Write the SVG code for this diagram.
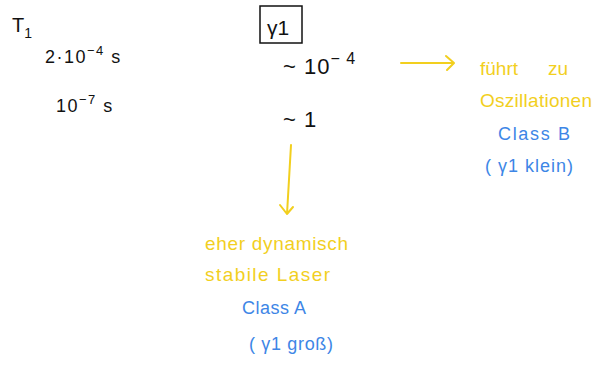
<svg xmlns="http://www.w3.org/2000/svg" width="602" height="374" viewBox="0 0 602 374">
<defs>
<style>
text{font-family:"Liberation Sans","DejaVu Sans",sans-serif}
.k{fill:#111}
.y{fill:#f2cf1e}
.b{fill:#3d86e6}
.ln{stroke:#f2cf1e;stroke-width:2;fill:none;stroke-linecap:round;stroke-linejoin:round}
</style>
</defs>
<rect width="602" height="374" fill="#fff"/>
<g id="t1"><text class="k" x="12" y="32" font-size="20">T<tspan font-size="14" dy="6">1</tspan></text></g>
<g id="val1"><text class="k" x="45" y="63" font-size="18" letter-spacing="1.5">2·10<tspan font-size="13" dy="-8">−4</tspan><tspan dy="8"> s</tspan></text></g>
<g id="val2"><text class="k" x="56" y="112" font-size="18" letter-spacing="1.5">10<tspan font-size="13" dy="-8">−7</tspan><tspan dy="8"> s</tspan></text></g>
<g id="gamma">
<rect x="260" y="6" width="42" height="37" fill="none" stroke="#111" stroke-width="1.5"/>
<text class="k" x="267" y="35" font-size="21">γ1</text>
</g>
<g id="g1"><text class="k" x="283" y="74" font-size="22" letter-spacing="1">~ 10<tspan font-size="16" dy="-10">− 4</tspan></text></g>
<g id="g2"><text class="k" x="283" y="127" font-size="22" letter-spacing="1">~  1</text></g>
<g id="classB">
<text class="y" x="480" y="75" font-size="19"><tspan>führt</tspan><tspan x="548">zu</tspan></text>
<text class="y" x="480" y="107" font-size="19" textLength="112" lengthAdjust="spacing">Oszillationen</text>
<text class="b" x="498" y="140" font-size="18" textLength="72" lengthAdjust="spacing">Class B</text>
<text class="b" x="485" y="172" font-size="18" textLength="88" lengthAdjust="spacing">( γ1 klein)</text>
</g>
<g id="classA">
<text class="y" x="205" y="250" font-size="19" textLength="143" lengthAdjust="spacing">eher dynamisch</text>
<text class="y" x="205" y="281" font-size="19" textLength="125" lengthAdjust="spacing">stabile Laser</text>
<text class="b" x="242" y="314" font-size="18" textLength="64" lengthAdjust="spacing">Class A</text>
<text class="b" x="249" y="350" font-size="18" textLength="84" lengthAdjust="spacing">( γ1 groß)</text>
</g>
<g id="connectors">
<path class="ln" d="M401 63 L452 63 M446 56 L454 63 L447 70"/>
<path class="ln" d="M291 145 L287 214 M280 205 L287 214 L293 207"/>
</g>
</svg>
